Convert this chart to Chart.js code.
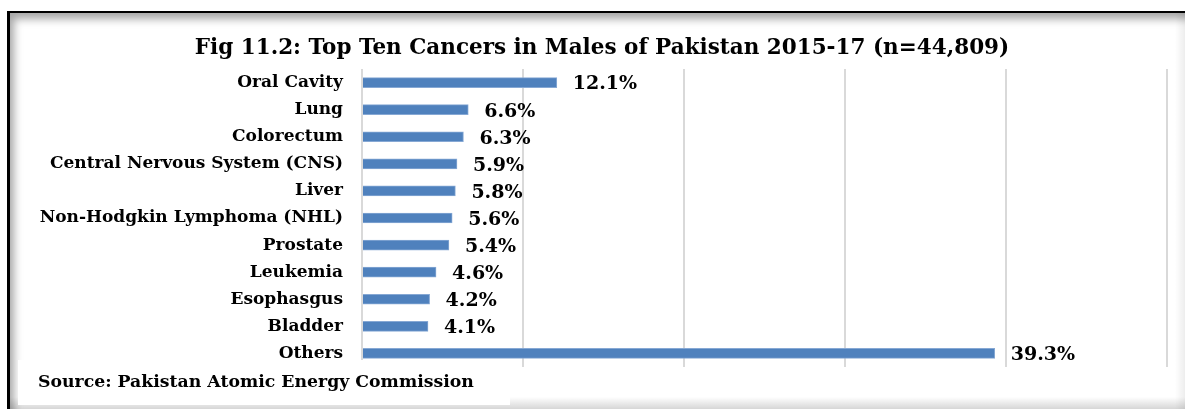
<!DOCTYPE html>
<html>
<head>
<meta charset="utf-8">
<script src="https://cdn.jsdelivr.net/npm/chart.js@4"></script>
<style>
  html, body { margin: 0; padding: 0; background: #fff; overflow: hidden; }
  #wrap { position: relative; width: 1185px; height: 409px; overflow: hidden; }
  /* picture frame: dark top/left edges with a soft inner shadow */
  #frame {
    position: absolute; left: 7px; top: 11px; width: 1250px; height: 450px;
    border-top: 2px solid #000; border-left: 3px solid #000;
    box-shadow: inset 7px 9px 9px -3px rgba(0,0,0,0.35);
  }
  #edgeR { position: absolute; left: 1175px; top: 13px; width: 10px; height: 396px;
    background: linear-gradient(to right, rgba(0,0,0,0), rgba(0,0,0,0.07)); }
  #edgeB { position: absolute; left: 10px; top: 397px; width: 1175px; height: 12px;
    background: linear-gradient(to bottom, rgba(0,0,0,0), rgba(0,0,0,0.16)); }
  #chart { position: absolute; left: 0; top: 0; }
</style>
</head>
<body>
<div id="wrap">
  <div id="frame"></div>
  <div id="edgeR"></div>
  <div id="edgeB"></div>
  <canvas id="chart" width="1185" height="409"></canvas>
</div>
<script>
  // values (percent of all male cancers)
  const CATEGORIES = ["Oral Cavity", "Lung", "Colorectum", "Central Nervous System (CNS)", "Liver",
    "Non-Hodgkin Lymphoma (NHL)", "Prostate", "Leukemia", "Esophasgus", "Bladder", "Others"];
  const PERCENTS = [12.1, 6.6, 6.3, 5.9, 5.8, 5.6, 5.4, 4.6, 4.2, 4.1, 39.3];
  const X_TICKS = [0, 10, 20, 30, 40, 50];

  const TITLE = "Fig 11.2: Top Ten Cancers in Males of Pakistan 2015-17 (n=44,809)";
  const SOURCE = "Source: Pakistan Atomic Energy Commission";
  const FONT = "'DejaVu Serif', 'Liberation Serif', serif";

  // percent labels after each bar, plus title and the source box
  const decorations = {
    id: "decorations",
    afterDatasetsDraw(chart) {
      const ctx = chart.ctx;
      const meta = chart.getDatasetMeta(0);
      ctx.save();
      ctx.fillStyle = "#000";
      ctx.font = "bold 19px " + FONT;
      ctx.textAlign = "left";
      ctx.textBaseline = "middle";
      meta.data.forEach(function (bar, i) {
        ctx.fillText(PERCENTS[i].toFixed(1) + "%", bar.x + 16, bar.y + 2);
      });
      ctx.restore();
    },
    afterDraw(chart) {
      const ctx = chart.ctx;
      ctx.save();
      ctx.fillStyle = "#000";
      ctx.font = "bold 21.5px " + FONT;
      ctx.textAlign = "center";
      ctx.textBaseline = "alphabetic";
      ctx.fillText(TITLE, 602, 54);

      ctx.fillStyle = "#fff";
      ctx.fillRect(18, 360, 492, 45);
      ctx.fillStyle = "#000";
      ctx.font = "bold 17.3px " + FONT;
      ctx.textAlign = "left";
      ctx.fillText(SOURCE, 38, 387);
      ctx.restore();
    }
  };

  new Chart(document.getElementById("chart"), {
    type: "bar",
    data: {
      labels: CATEGORIES,
      datasets: [{
        data: PERCENTS,
        backgroundColor: "#4f81bd",
        borderColor: "#86a8d4",
        borderWidth: 1,
        barThickness: 10,
      }],
    },
    plugins: [decorations],
    options: {
      indexAxis: "y",
      responsive: false,
      devicePixelRatio: 1,
      animation: false,
      layout: { padding: { left: 0, right: 18, top: 69, bottom: 42 } },
      plugins: { legend: { display: false }, tooltip: { enabled: false }, title: { display: false } },
      scales: {
        x: {
          min: X_TICKS[0],
          max: X_TICKS[X_TICKS.length - 1],
          afterBuildTicks: function (scale) { scale.ticks = X_TICKS.map(function (v) { return { value: v }; }); },
          ticks: { display: false },
          grid: { color: "#d9d9d9", lineWidth: 2, drawTicks: false },
          border: { display: false },
          afterFit: function (scale) { scale.height = 0; },
        },
        y: {
          ticks: { color: "#000", padding: 19, font: { family: FONT, size: 17, weight: "bold" } },
          grid: { display: false, drawTicks: false },
          border: { display: false },
          afterFit: function (scale) { scale.width = 362; },
        },
      },
    },
  });
</script>
</body>
</html>
